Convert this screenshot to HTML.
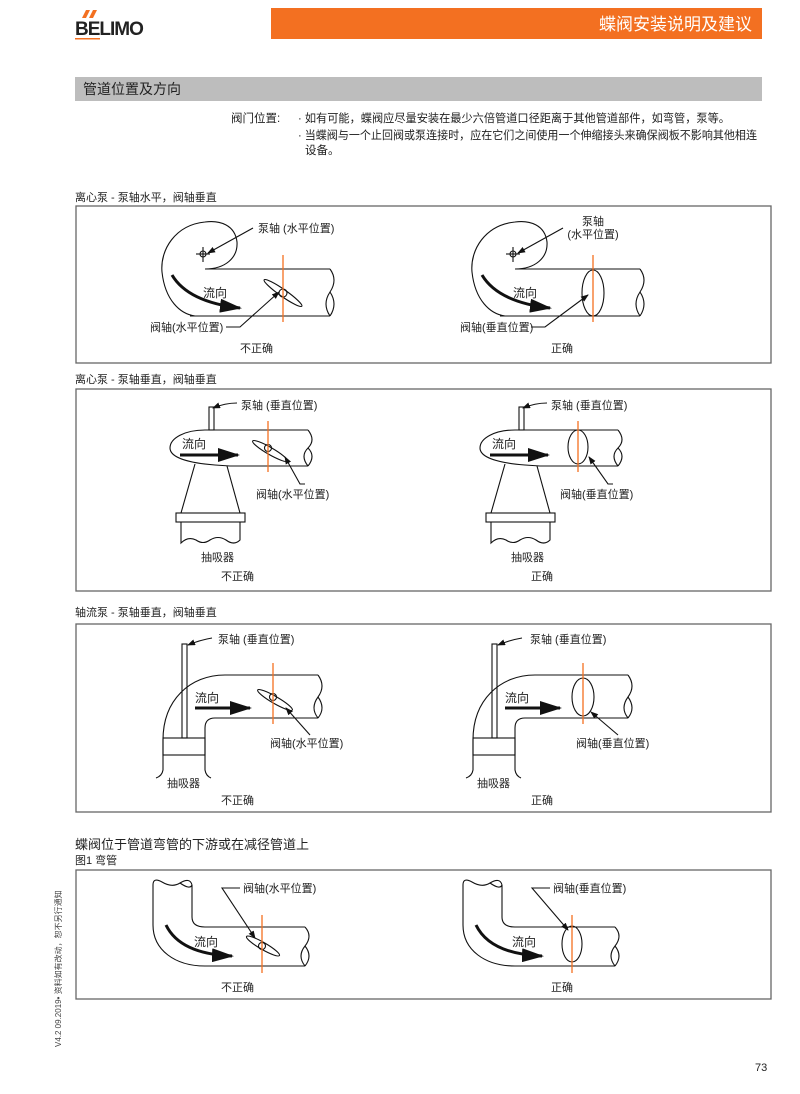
<!DOCTYPE html>
<html><head><meta charset="utf-8"><style>
html,body{margin:0;padding:0;background:#fff;}
svg{display:block;font-family:"Liberation Sans","Noto Sans CJK SC",sans-serif;}
</style></head><body>
<svg width="800" height="1094" viewBox="0 0 800 1094" xmlns="http://www.w3.org/2000/svg">
<defs>
<marker id="ah" markerWidth="8" markerHeight="6" refX="7" refY="3" orient="auto" markerUnits="userSpaceOnUse"><path d="M0,0 L8,3 L0,6 Z" fill="#111"/></marker>
<marker id="bh" markerWidth="22" markerHeight="14" refX="20" refY="7" orient="auto" markerUnits="userSpaceOnUse"><path d="M0,0 L22,7 L0,14 Z" fill="#111"/></marker>
</defs>
<!-- header -->
<rect x="271" y="8" width="491" height="31" fill="#f37021"/>
<text x="752" y="30" font-size="17" fill="#fff" text-anchor="end">蝶阀安装说明及建议</text>
<text x="75" y="35" font-size="19" font-weight="bold" fill="#222" letter-spacing="-1">BELIMO</text>
<path d="M83 18 l4 -8 h4 l-4 8z M90 18 l4 -8 h4 l-4 8z" fill="#f37021" transform="translate(-1,0)"/>
<rect x="75" y="38" width="25" height="1.5" fill="#f37021"/>
<rect x="75" y="77" width="687" height="24" fill="#bdbdbd"/>
<text x="83" y="94" font-size="14" fill="#222">管道位置及方向</text>
<g font-size="11.5" fill="#222">
<text x="231" y="122">阀门位置:</text>
<text x="298" y="122" textLength="432" lengthAdjust="spacingAndGlyphs">· 如有可能，蝶阀应尽量安装在最少六倍管道口径距离于其他管道部件，如弯管，泵等。</text>
<text x="298" y="139" textLength="459" lengthAdjust="spacingAndGlyphs">· 当蝶阀与一个止回阀或泵连接时，应在它们之间使用一个伸缩接头来确保阀板不影响其他相连</text>
<text x="305" y="154">设备。</text>
</g>
<g font-size="11" fill="#222">
<text x="75" y="201">离心泵 - 泵轴水平，阀轴垂直</text>
<text x="75" y="383">离心泵 - 泵轴垂直，阀轴垂直</text>
<text x="75" y="616">轴流泵 - 泵轴垂直，阀轴垂直</text>
<text x="75" y="849" font-size="13">蝶阀位于管道弯管的下游或在减径管道上</text>
<text x="75" y="864">图1  弯管</text>
</g>
<g fill="none" stroke="#666" stroke-width="1.3">
<rect x="76" y="206" width="695" height="157"/>
<rect x="76" y="389" width="695" height="202"/>
<rect x="76" y="624" width="695" height="188"/>
<rect x="76" y="870" width="695" height="129"/>
</g>

<!-- ===== Diagram 1 ===== -->
<g id="d1" fill="none" stroke="#111" stroke-width="1.1">
<path d="M205 269 C225 269 238 258 237 242 C235 225 220 220 205 222 C175 225 160 250 162 272 C165 300 180 314 195 316"/>
<line x1="205" y1="269" x2="330" y2="269"/>
<line x1="190" y1="316" x2="330" y2="316"/>
<path d="M330 269 Q338 280 330 292 Q322 304 330 316 M330 292 Q338 304 330 316"/>
<circle cx="203" cy="254" r="3"/><line x1="196" y1="254" x2="210" y2="254"/><line x1="203" y1="247" x2="203" y2="262"/>
<path d="M172 275 Q188 302 240 308" stroke-width="3" marker-end="url(#bh)"/>
</g>
<use href="#d1" x="310"/>
<g fill="none" stroke="#111" stroke-width="1.1">
<line x1="253" y1="228" x2="208" y2="253" marker-end="url(#ah)"/>
<line x1="563" y1="228" x2="518" y2="253" marker-end="url(#ah)"/>
<ellipse cx="283" cy="293" rx="23" ry="3.5" transform="rotate(35 283 293)"/>
<circle cx="283" cy="293" r="4"/>
<polyline points="226,327 240,327 279,292" marker-end="url(#ah)"/>
<ellipse cx="593" cy="293" rx="11" ry="23"/>
<polyline points="531,327 545,327 588,295" marker-end="url(#ah)"/>
</g>
<line x1="283" y1="255" x2="283" y2="322" stroke="#f37021" stroke-width="1.3"/>
<line x1="593" y1="255" x2="593" y2="322" stroke="#f37021" stroke-width="1.3"/>
<g font-size="11" fill="#222">
<text x="258" y="232">泵轴 (水平位置)</text>
<text x="593" y="225" text-anchor="middle">泵轴</text>
<text x="593" y="238" text-anchor="middle">(水平位置)</text>
<text x="203" y="297" font-size="12">流向</text><text x="513" y="297" font-size="12">流向</text>
<text x="150" y="331">阀轴(水平位置)</text>
<text x="460" y="331">阀轴(垂直位置)</text>
<text x="240" y="352">不正确</text><text x="551" y="352">正确</text>
</g>

<!-- ===== Diagram 2 ===== -->
<g id="d2" fill="none" stroke="#111" stroke-width="1.1">
<rect x="209" y="407" width="5" height="23"/>
<path d="M308 430 H205 C185 430 170 438 170 448 C170 458 190 463 215 465 L230 466 H308"/>
<path d="M308 430 Q316 440 308 448 Q300 456 308 466 M308 448 Q316 456 308 466"/>
<path d="M195 464 L181 513 M227 466 L240 513"/>
<rect x="176" y="513" width="69" height="9"/>
<path d="M181 522 V543 Q188 536 196 540 Q203 545 210 540 Q218 535 226 540 Q234 546 240 540 V522"/>
<line x1="180" y1="455" x2="238" y2="455" stroke-width="3" marker-end="url(#bh)"/>
</g>
<use href="#d2" x="310"/>
<g fill="none" stroke="#111" stroke-width="1.1">
<path d="M237 403 Q225 403 213 408" marker-end="url(#ah)"/>
<path d="M547 403 Q535 403 523 408" marker-end="url(#ah)"/>
<ellipse cx="270" cy="451" rx="20" ry="3.5" transform="rotate(30 270 451)"/>
<circle cx="268" cy="448" r="3.5"/>
<polyline points="305,484 300,484 285,457" marker-end="url(#ah)"/>
<ellipse cx="578" cy="447" rx="10" ry="17"/>
<polyline points="613,484 608,484 589,457" marker-end="url(#ah)"/>
</g>
<line x1="268" y1="421" x2="268" y2="472" stroke="#f37021" stroke-width="1.3"/>
<line x1="578" y1="421" x2="578" y2="472" stroke="#f37021" stroke-width="1.3"/>
<g font-size="11" fill="#222">
<text x="241" y="409">泵轴 (垂直位置)</text><text x="551" y="409">泵轴 (垂直位置)</text>
<text x="182" y="448" font-size="12">流向</text><text x="492" y="448" font-size="12">流向</text>
<text x="256" y="498">阀轴(水平位置)</text><text x="560" y="498">阀轴(垂直位置)</text>
<text x="201" y="561">抽吸器</text><text x="511" y="561">抽吸器</text>
<text x="221" y="580">不正确</text><text x="531" y="580">正确</text>
</g>

<!-- ===== Diagram 3 ===== -->
<g id="d3" fill="none" stroke="#111" stroke-width="1.1">
<rect x="182" y="644" width="5" height="94"/>
<path d="M318 675 H225 C190 675 163 700 163 740 V770 Q162 776 156 778"/>
<path d="M318 718 H215 Q205 718 205 728 V770 Q206 776 211 778"/>
<path d="M318 675 Q326 686 318 697 Q310 708 318 718 M318 697 Q326 708 318 718"/>
<rect x="163" y="738" width="42" height="17"/>
<line x1="195" y1="708" x2="250" y2="708" stroke-width="3" marker-end="url(#bh)"/>
</g>
<use href="#d3" x="310"/>
<g fill="none" stroke="#111" stroke-width="1.1">
<path d="M212 638 Q200 640 188 645" marker-end="url(#ah)"/>
<path d="M522 638 Q510 640 498 645" marker-end="url(#ah)"/>
<ellipse cx="275" cy="700" rx="20" ry="3.5" transform="rotate(30 275 700)"/>
<circle cx="273" cy="697" r="3.5"/>
<line x1="310" y1="735" x2="286" y2="708" marker-end="url(#ah)"/>
<ellipse cx="583" cy="697" rx="11" ry="19"/>
<line x1="618" y1="735" x2="591" y2="712" marker-end="url(#ah)"/>
</g>
<line x1="273" y1="663" x2="273" y2="724" stroke="#f37021" stroke-width="1.3"/>
<line x1="583" y1="663" x2="583" y2="724" stroke="#f37021" stroke-width="1.3"/>
<g font-size="11" fill="#222">
<text x="218" y="643">泵轴 (垂直位置)</text><text x="530" y="643">泵轴 (垂直位置)</text>
<text x="195" y="702" font-size="12">流向</text><text x="505" y="702" font-size="12">流向</text>
<text x="270" y="747">阀轴(水平位置)</text><text x="576" y="747">阀轴(垂直位置)</text>
<text x="167" y="787">抽吸器</text><text x="477" y="787">抽吸器</text>
<text x="221" y="804">不正确</text><text x="531" y="804">正确</text>
</g>

<!-- ===== Diagram 4 ===== -->
<g id="d4" fill="none" stroke="#111" stroke-width="1.1">
<path d="M153 885 Q153 877 162 882 Q172 888 180 883 Q190 877 192 885 M180 883 Q190 890 192 885"/>
<path d="M153 885 V925 C153 950 175 966 205 966 H305"/>
<path d="M192 885 V917 Q192 927 205 927 H305"/>
<path d="M305 927 Q313 936 305 946 Q297 956 305 966 M305 946 Q313 956 305 966"/>
<path d="M166 925 Q180 954 232 956" stroke-width="3" marker-end="url(#bh)"/>
</g>
<use href="#d4" x="310"/>
<g fill="none" stroke="#111" stroke-width="1.1">
<ellipse cx="263" cy="946" rx="19" ry="3.5" transform="rotate(30 263 946)"/>
<circle cx="262" cy="946" r="3.5"/>
<polyline points="240,888 222,888 255,938" marker-end="url(#ah)"/>
<ellipse cx="572" cy="944" rx="10" ry="18"/>
<polyline points="550,888 532,888 568,930" marker-end="url(#ah)"/>
</g>
<line x1="262" y1="915" x2="262" y2="973" stroke="#f37021" stroke-width="1.3"/>
<line x1="572" y1="915" x2="572" y2="973" stroke="#f37021" stroke-width="1.3"/>
<g font-size="11" fill="#222">
<text x="243" y="892">阀轴(水平位置)</text><text x="553" y="892">阀轴(垂直位置)</text>
<text x="194" y="946" font-size="12">流向</text><text x="512" y="946" font-size="12">流向</text>
<text x="221" y="991">不正确</text><text x="551" y="991">正确</text>
</g>

<!-- footer -->
<text x="755" y="1071" font-size="11" fill="#222">73</text>
<text transform="translate(61,1047) rotate(-90)" font-size="8" fill="#444">V4.2  09.2019• 资料如有改动，恕不另行通知</text>
</svg>
</body></html>
